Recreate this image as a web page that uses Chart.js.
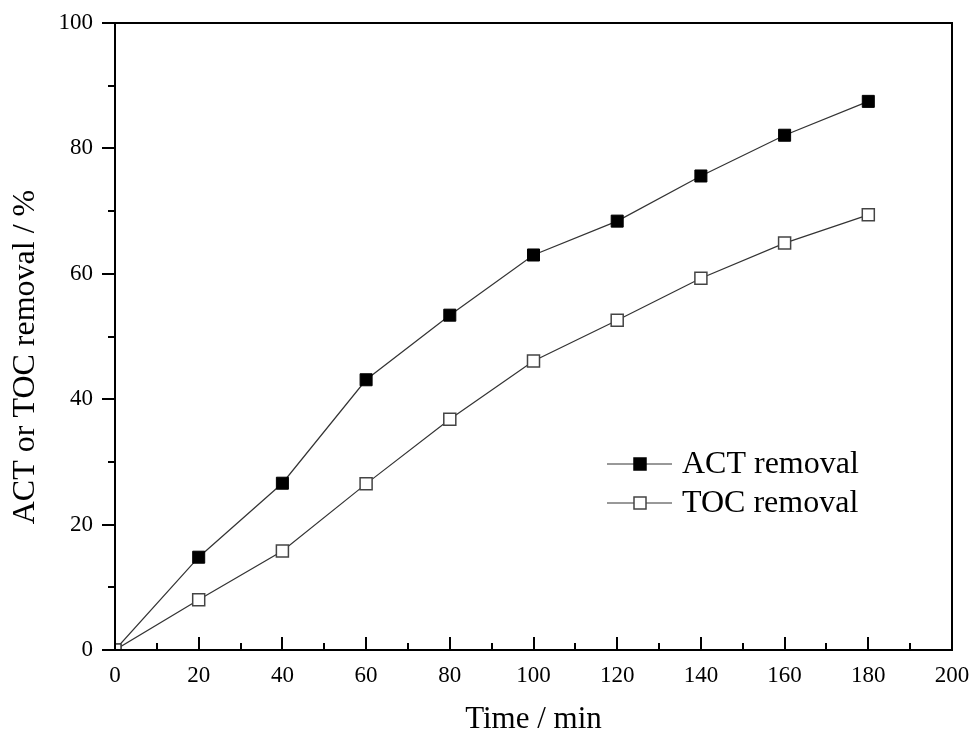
<!DOCTYPE html>
<html>
<head>
<meta charset="utf-8">
<title>ACT and TOC removal</title>
<script src="https://cdn.jsdelivr.net/npm/chart.js@4.4.1/dist/chart.umd.min.js"></script>
<style>
  html, body { margin: 0; padding: 0; background: #fff; }
  #wrap { width: 974px; height: 738px; }
</style>
</head>
<body>
<div id="wrap"><canvas id="chart" width="974" height="738"></canvas></div>
<script>
// ── Data ──────────────────────────────────────────────
const times      = [0, 20, 40, 60, 80, 100, 120, 140, 160, 180];
const actRemoval = [0, 14.8, 26.6, 43.1, 53.4, 63.0, 68.4, 75.6, 82.1, 87.5];
const tocRemoval = [0, 8.0, 15.8, 26.5, 36.8, 46.1, 52.6, 59.3, 64.9, 69.4];
const seriesNames = ['ACT removal', 'TOC removal'];
const xTicks = [0, 20, 40, 60, 80, 100, 120, 140, 160, 180, 200];
const yTicks = [0, 20, 40, 60, 80, 100];
const xTitle = 'Time / min';
const yTitle = 'ACT or TOC removal / %';

const SERIF = '"Liberation Serif", "Times New Roman", serif';
const INK = '#000';

const toPoints = vals => times.map((t, i) => ({ x: t, y: vals[i] }));

// ── Frame, ticks, titles, legend ──────────────────────
const decorPlugin = {
  id: 'decor',
  afterDraw(chart) {
    const { ctx, chartArea: a, scales: { x, y } } = chart;
    ctx.save();
    ctx.strokeStyle = INK;
    ctx.lineWidth = 2;
    ctx.strokeRect(a.left, a.top, a.right - a.left, a.bottom - a.top);

    // x ticks point inward, y ticks outward; minor every 10
    ctx.beginPath();
    for (let v = xTicks[0]; v <= xTicks[xTicks.length - 1]; v += 10) {
      const px = Math.round(x.getPixelForValue(v));
      const len = v % 20 === 0 ? 13 : 7;
      ctx.moveTo(px, a.bottom);
      ctx.lineTo(px, a.bottom - len);
    }
    for (let v = yTicks[0]; v <= yTicks[yTicks.length - 1]; v += 10) {
      const py = Math.round(y.getPixelForValue(v));
      const len = v % 20 === 0 ? 13 : 7;
      ctx.moveTo(a.left, py);
      ctx.lineTo(a.left - len, py);
    }
    ctx.stroke();

    // axis titles
    ctx.fillStyle = INK;
    ctx.textAlign = 'center';
    ctx.textBaseline = 'middle';
    ctx.font = `31px ${SERIF}`;
    ctx.fillText(xTitle, (a.left + a.right) / 2, 720);
    ctx.save();
    ctx.translate(26, 357);
    ctx.rotate(-Math.PI / 2);
    ctx.font = `32px ${SERIF}`;
    ctx.fillText(yTitle, 0, 0);
    ctx.restore();

    // legend
    const rows = [
      { label: seriesNames[0], y: 464, fill: '#000', stroke: '#000' },
      { label: seriesNames[1], y: 503, fill: '#fff', stroke: '#444' }
    ];
    rows.forEach(r => {
      ctx.strokeStyle = '#333';
      ctx.lineWidth = 1;
      ctx.beginPath();
      ctx.moveTo(607, r.y);
      ctx.lineTo(672, r.y);
      ctx.stroke();
      ctx.fillStyle = r.fill;
      ctx.fillRect(634, r.y - 6, 12, 12);
      ctx.strokeStyle = r.stroke;
      ctx.lineWidth = 1.5;
      ctx.strokeRect(634, r.y - 6, 12, 12);
      ctx.fillStyle = INK;
      ctx.textAlign = 'left';
      ctx.font = `32px ${SERIF}`;
      ctx.fillText(r.label, 682, r.y + 1);
    });
    ctx.restore();
  }
};

new Chart(document.getElementById('chart'), {
  type: 'line',
  data: {
    datasets: [
      {
        label: seriesNames[0],
        data: toPoints(actRemoval),
        order: 1,
        borderColor: '#333',
        borderWidth: 1.2,
        pointStyle: 'rect',
        pointRadius: 8.5,
        pointBackgroundColor: '#000',
        pointBorderColor: '#000',
        pointBorderWidth: 1,
        tension: 0
      },
      {
        label: seriesNames[1],
        data: toPoints(tocRemoval),
        order: 0,
        borderColor: '#333',
        borderWidth: 1.2,
        pointStyle: 'rect',
        pointRadius: 8.5,
        pointBackgroundColor: '#fff',
        pointBorderColor: '#444',
        pointBorderWidth: 1.5,
        tension: 0
      }
    ]
  },
  options: {
    responsive: false,
    animation: false,
    layout: { padding: { left: 0, top: 23, right: 22, bottom: 0 } },
    plugins: { legend: { display: false }, tooltip: { enabled: false } },
    scales: {
      x: {
        type: 'linear',
        min: 0,
        max: 200,
        afterBuildTicks: s => { s.ticks = xTicks.map(v => ({ value: v })); },
        afterFit: s => { s.height = 88; s.paddingLeft = 0; s.paddingRight = 0; },
        ticks: { color: INK, font: { family: SERIF, size: 23 }, padding: 12, maxRotation: 0 },
        grid: { display: false, drawTicks: false },
        border: { display: false }
      },
      y: {
        min: 0,
        max: 100,
        afterBuildTicks: s => { s.ticks = yTicks.map(v => ({ value: v })); },
        afterFit: s => { s.width = 115; s.paddingTop = 0; s.paddingBottom = 0; },
        ticks: { color: INK, font: { family: SERIF, size: 23 }, padding: 22 },
        grid: { display: false, drawTicks: false },
        border: { display: false }
      }
    }
  },
  plugins: [decorPlugin]
});
</script>
</body>
</html>
